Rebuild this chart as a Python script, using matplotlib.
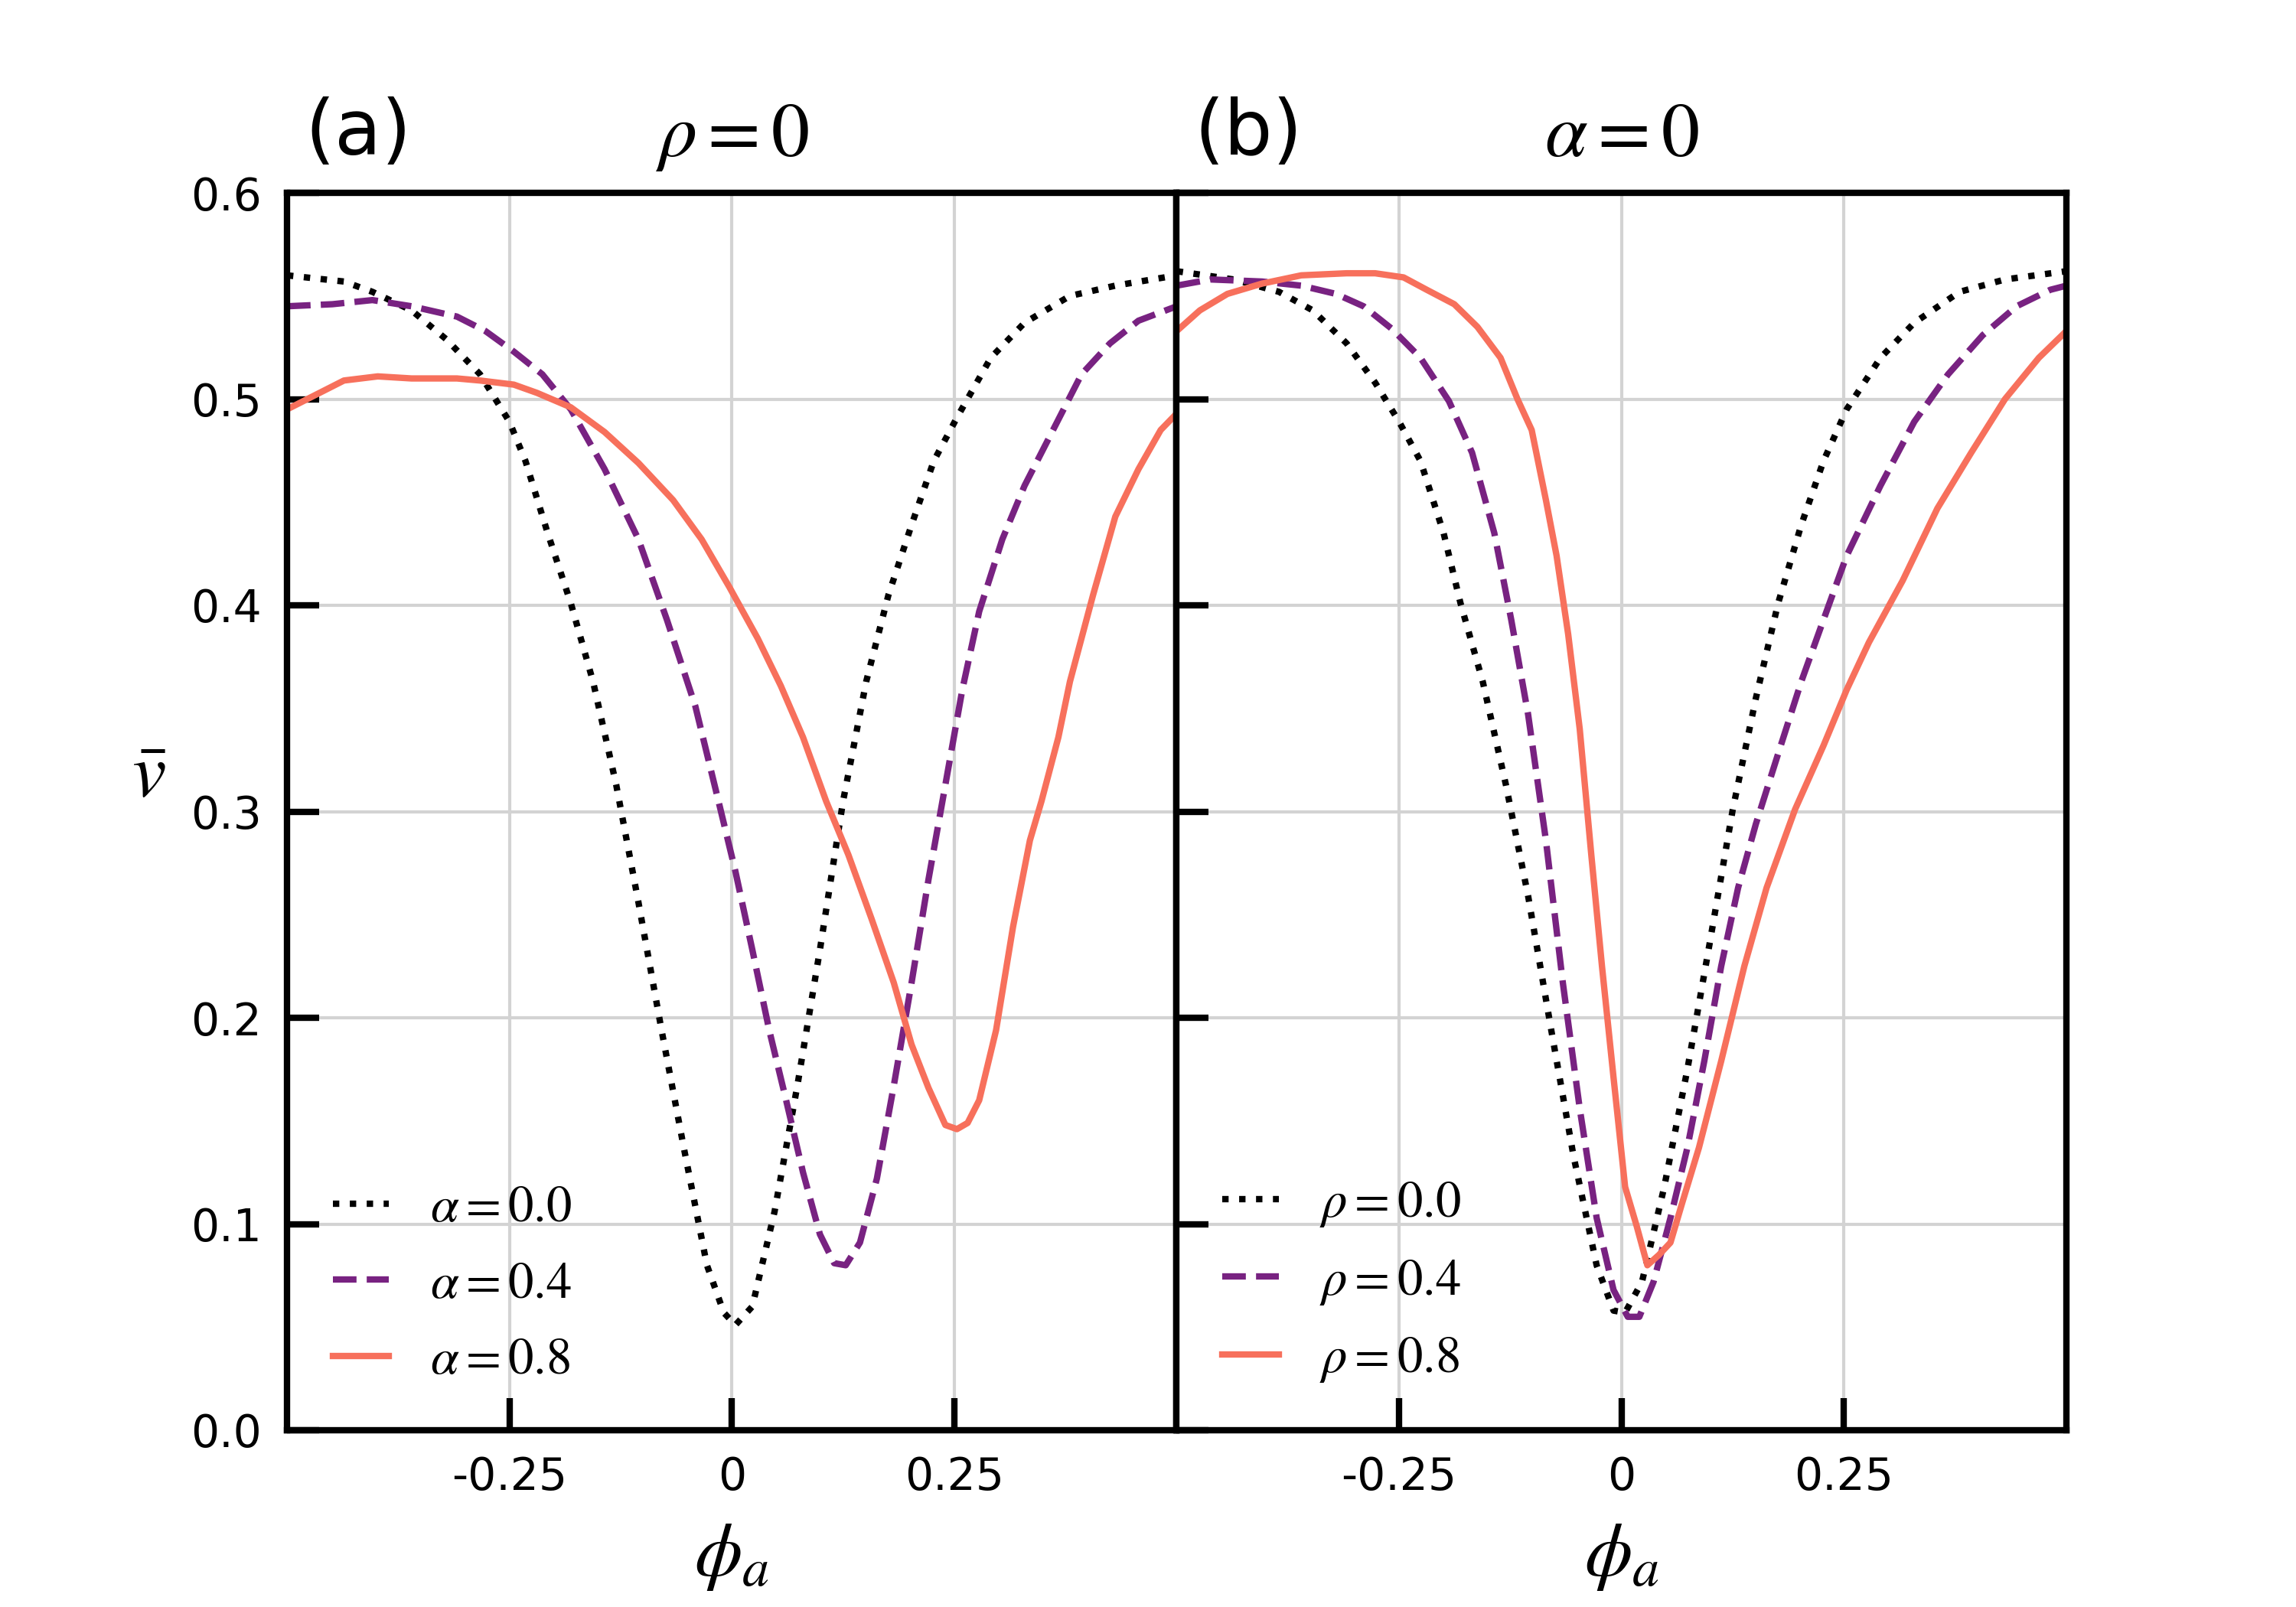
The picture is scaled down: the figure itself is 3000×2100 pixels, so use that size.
import numpy as np
import matplotlib.pyplot as plt

plt.rcParams['mathtext.fontset'] = 'stix'
plt.rcParams['axes.unicode_minus'] = False

# panel (a): rho = 0, three values of alpha
phi_a1 = [-0.5, -0.436, -0.404, -0.36, -0.321, -0.283, -0.25, -0.232, -0.207, -0.181,
          -0.156, -0.13, -0.105, -0.079, -0.054, -0.028, -0.009, 0.004, 0.023, 0.048,
          0.074, 0.099, 0.125, 0.151, 0.176, 0.202, 0.227, 0.253, 0.291, 0.329,
          0.38, 0.431, 0.5]
v_a1 = [0.560, 0.557, 0.552, 0.543, 0.529, 0.512, 0.489, 0.470, 0.435, 0.401,
        0.363, 0.313, 0.256, 0.194, 0.137, 0.080, 0.057, 0.051, 0.060, 0.106,
        0.168, 0.233, 0.305, 0.363, 0.405, 0.439, 0.470, 0.491, 0.520, 0.537,
        0.550, 0.555, 0.560]

phi_a2 = [-0.5, -0.449, -0.404, -0.36, -0.309, -0.277, -0.245, -0.213, -0.181, -0.143,
          -0.105, -0.073, -0.041, -0.015, 0.004, 0.023, 0.042, 0.061, 0.080, 0.099,
          0.115, 0.128, 0.144, 0.163, 0.182, 0.202, 0.221, 0.240, 0.259, 0.278,
          0.304, 0.329, 0.361, 0.393, 0.425, 0.457, 0.5]
v_a2 = [0.545, 0.546, 0.548, 0.545, 0.540, 0.533, 0.523, 0.512, 0.495, 0.466,
        0.432, 0.393, 0.351, 0.305, 0.271, 0.233, 0.194, 0.160, 0.125, 0.095,
        0.081, 0.080, 0.091, 0.122, 0.167, 0.217, 0.267, 0.313, 0.359, 0.397,
        0.432, 0.458, 0.485, 0.512, 0.527, 0.538, 0.545]

phi_a3 = [-0.5, -0.468, -0.436, -0.398, -0.36, -0.309, -0.283, -0.245, -0.219, -0.181,
          -0.143, -0.105, -0.066, -0.034, -0.003, 0.029, 0.055, 0.080, 0.106, 0.131,
          0.157, 0.182, 0.202, 0.221, 0.240, 0.253, 0.265, 0.278, 0.297, 0.316,
          0.335, 0.348, 0.367, 0.380, 0.406, 0.431, 0.457, 0.482, 0.5]
v_a3 = [0.495, 0.502, 0.509, 0.511, 0.510, 0.510, 0.509, 0.507, 0.503, 0.496,
        0.484, 0.469, 0.451, 0.432, 0.409, 0.384, 0.361, 0.336, 0.305, 0.279,
        0.248, 0.217, 0.187, 0.166, 0.148, 0.146, 0.149, 0.160, 0.194, 0.244,
        0.286, 0.305, 0.336, 0.363, 0.405, 0.443, 0.466, 0.485, 0.493]

# panel (b): alpha = 0, three values of rho
phi_b1 = [-0.5, -0.436, -0.385, -0.347, -0.309, -0.277, -0.25, -0.226, -0.2, -0.181,
          -0.156, -0.13, -0.105, -0.079, -0.054, -0.028, -0.009, 0.004, 0.023, 0.048,
          0.074, 0.099, 0.125, 0.151, 0.176, 0.202, 0.227, 0.253, 0.291, 0.329,
          0.38, 0.431, 0.5]
v_b1 = [0.562, 0.558, 0.552, 0.543, 0.527, 0.508, 0.489, 0.470, 0.435, 0.401,
        0.363, 0.313, 0.259, 0.194, 0.133, 0.080, 0.058, 0.057, 0.072, 0.118,
        0.175, 0.236, 0.301, 0.355, 0.401, 0.439, 0.470, 0.495, 0.520, 0.537,
        0.552, 0.558, 0.562]

phi_b2 = [-0.5, -0.462, -0.404, -0.36, -0.321, -0.29, -0.258, -0.226, -0.194, -0.168,
          -0.143, -0.124, -0.105, -0.085, -0.066, -0.047, -0.028, -0.009, 0.007, 0.020,
          0.036, 0.055, 0.074, 0.093, 0.112, 0.131, 0.151, 0.176, 0.202, 0.227,
          0.253, 0.291, 0.329, 0.367, 0.406, 0.444, 0.482, 0.5]
v_b2 = [0.555, 0.558, 0.557, 0.555, 0.551, 0.545, 0.534, 0.520, 0.499, 0.474,
        0.435, 0.393, 0.347, 0.286, 0.217, 0.156, 0.103, 0.068, 0.055, 0.055,
        0.072, 0.103, 0.137, 0.179, 0.225, 0.263, 0.294, 0.328, 0.363, 0.393,
        0.424, 0.458, 0.489, 0.512, 0.531, 0.545, 0.553, 0.555]

phi_b3 = [-0.5, -0.474, -0.443, -0.404, -0.36, -0.309, -0.277, -0.245, -0.219, -0.188,
          -0.162, -0.136, -0.117, -0.101, -0.085, -0.073, -0.060, -0.047, -0.034, -0.022,
          -0.009, 0.004, 0.017, 0.029, 0.042, 0.055, 0.068, 0.087, 0.112, 0.138,
          0.163, 0.195, 0.227, 0.253, 0.278, 0.316, 0.355, 0.393, 0.431, 0.469, 0.5]
v_b3 = [0.533, 0.543, 0.551, 0.556, 0.560, 0.561, 0.561, 0.559, 0.553, 0.546,
        0.535, 0.520, 0.500, 0.485, 0.451, 0.424, 0.386, 0.340, 0.279, 0.225,
        0.171, 0.118, 0.099, 0.080, 0.085, 0.091, 0.110, 0.137, 0.179, 0.225,
        0.263, 0.301, 0.332, 0.359, 0.382, 0.412, 0.447, 0.474, 0.500, 0.520, 0.533]

labels_a = [r'$\alpha=0.0$', r'$\alpha=0.4$', r'$\alpha=0.8$']
labels_b = [r'$\rho=0.0$', r'$\rho=0.4$', r'$\rho=0.8$']
xticks = [-0.25, 0, 0.25]
xticklabels = ['-0.25', '0', '0.25']
yticks = [0.0, 0.1, 0.2, 0.3, 0.4, 0.5, 0.6]

colors = ['black', '#782281', '#f7705c']
styles = [':', '--', '-']

fig, axes = plt.subplots(1, 2, figsize=(10, 7), dpi=300, sharey=True)
fig.subplots_adjust(wspace=0)

panels = [
    (axes[0], [(phi_a1, v_a1), (phi_a2, v_a2), (phi_a3, v_a3)], labels_a, '(a)', r'$\rho=0$'),
    (axes[1], [(phi_b1, v_b1), (phi_b2, v_b2), (phi_b3, v_b3)], labels_b, '(b)', r'$\alpha=0$'),
]

for ax, curves, labels, tag, title in panels:
    for (x, y), lab, c, ls in zip(curves, labels, colors, styles):
        ax.plot(x, y, ls, color=c, lw=2, label=lab)
    ax.set_xlim(-0.5, 0.5)
    ax.set_ylim(0, 0.6)
    ax.set_xticks(xticks)
    ax.set_xticklabels(xticklabels)
    ax.set_yticks(yticks)
    ax.grid(True, color='lightgray', lw=1)
    ax.tick_params(direction='in', length=10, width=2, labelsize=14, pad=8)
    for sp in ax.spines.values():
        sp.set_linewidth(2)
    ax.set_xlabel(r'$\phi_a$', fontsize=24, labelpad=6)
    ax.set_title(title, fontsize=24, pad=11.5)
    ax.text(0.02, 1.031, tag, transform=ax.transAxes, fontsize=24, va='baseline')
    ax.legend(loc='lower left', frameon=False, fontsize=16, handlelength=1.1)

axes[1].tick_params(labelleft=False)
axes[0].set_ylabel(r'$\bar{v}$', fontsize=24, rotation=0, ha='right', va='baseline')
axes[0].yaxis.set_label_coords(-0.136, 0.512)

fig.savefig('out.png', dpi=300)
